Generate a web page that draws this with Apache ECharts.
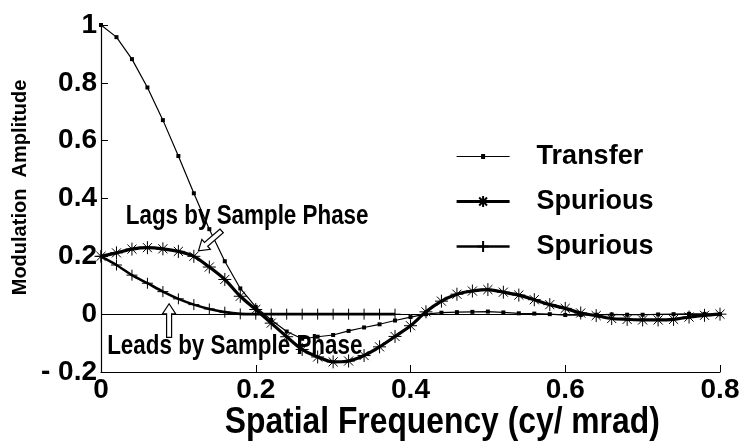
<!DOCTYPE html>
<html><head><meta charset="utf-8">
<script src="https://cdn.jsdelivr.net/npm/echarts@6/dist/echarts.min.js"></script>
<style>html,body{margin:0;padding:0;background:#fff}#c{width:755px;height:445px}</style>
</head><body><div id="c"></div>
<script>
const freq = [0,0.02,0.04,0.06,0.08,0.10,0.12,0.14,0.16,0.18,0.20,0.22,0.24,0.26,0.28,0.30,0.32,0.34,0.36,0.38,0.40,
  0.42,0.44,0.46,0.48,0.50,0.52,0.54,0.56,0.58,0.60,0.62,0.64,0.66,0.68,0.70,0.72,0.74,0.76,0.78,0.80];
const transfer = [1.0,0.958,0.882,0.784,0.671,0.547,0.418,0.294,0.183,0.089,0.025,-0.02,-0.06,-0.085,-0.078,-0.072,-0.058,-0.046,-0.035,-0.022,-0.01,
  0.0,0.005,0.007,0.008,0.009,0.006,0.003,0.002,0.0,-0.003,-0.003,-0.002,-0.001,-0.002,-0.002,-0.001,0.0,0.001,0.001,0.0];
const spuriousLag = [0.2,0.212,0.225,0.23,0.226,0.217,0.2,0.163,0.12,0.062,0.016,-0.031,-0.078,-0.122,-0.148,-0.165,-0.162,-0.143,-0.113,-0.077,-0.04,
  0.008,0.045,0.069,0.08,0.085,0.076,0.066,0.05,0.033,0.02,0.004,-0.005,-0.015,-0.018,-0.02,-0.02,-0.018,-0.01,-0.004,0.0];
const spuriousLead = [0.2,0.17,0.135,0.107,0.078,0.053,0.033,0.018,0.007,0.001,0,0,0,0,0,0,0,0,0,0];
const xTickLabels = {'0':'0','0.2':'0.2','0.4':'0.4','0.6':'0.6','0.8':'0.8'};
const yTickLabels = {'-0.2':'- 0.2','0':'0','0.2':'0.2','0.4':'0.4','0.6':'0.6','0.8':'0.8','1':'1'};
const seriesNames = ['Transfer','Spurious (lags)','Spurious (leads)'];
const legendLabels = {'Transfer':'Transfer','Spurious (lags)':'Spurious','Spurious (leads)':'Spurious'};
const annotations = {lags:'Lags by Sample Phase', leads:'Leads by Sample Phase'};
const xTitle = 'Spatial Frequency (cy/ mrad)';
const yTitle = 'Modulation  Amplitude';

const pairs = (xs, ys) => ys.map((v, i) => [xs[i], v]);
const SANS = '"Liberation Sans",Arial,sans-serif';
const starPath = 'path://M0,10 L20,10 M10,0 L10,20 M3,3 L17,17 M17,3 L3,17';
const plusPath = 'path://M0,10 L20,10 M10,0 L10,20';
const transferIcon = 'path://M0,0 M53,14 M0,6.4 L53,6.4 L53,7.6 L0,7.6 Z M24.5,4.5 L28.5,4.5 L28.5,9.5 L24.5,9.5 Z';

const chart = echarts.init(document.getElementById('c'), null, {renderer:'canvas'});
chart.setOption({
  animation:false,
  backgroundColor:'#fff',
  grid:{left:101,right:35,top:25,bottom:73,containLabel:false,outerBoundsMode:'none'},
  xAxis:{type:'value',min:0,max:0.8,interval:0.2,
    axisLine:{show:true,onZero:false,lineStyle:{color:'#000',width:1.2}},
    axisTick:{show:true,inside:true,length:7,lineStyle:{color:'#000'}},
    splitLine:{show:false},
    axisLabel:{color:'#000',fontFamily:SANS,fontWeight:'bold',fontSize:28,margin:4,
      formatter:v=>xTickLabels[String(+v.toFixed(1))]}},
  yAxis:{type:'value',min:-0.2,max:1,interval:0.2,
    axisLine:{show:true,onZero:false,lineStyle:{color:'#000',width:1.2}},
    axisTick:{show:true,inside:true,length:7,lineStyle:{color:'#000'}},
    splitLine:{show:false},
    axisLabel:{color:'#000',fontFamily:SANS,fontWeight:'bold',fontSize:28,margin:4,
      formatter:v=>yTickLabels[String(+v.toFixed(1))]},
    name:yTitle,nameLocation:'middle',nameGap:61,nameRotate:90,
    nameTextStyle:{color:'#000',fontFamily:SANS,fontWeight:'bold',fontSize:20,padding:[0,0,0,22]}},
  legend:{orient:'vertical',left:450,top:138,itemWidth:53,itemHeight:14,itemGap:18,
    data:[{name:seriesNames[0],icon:transferIcon},{name:seriesNames[1]},{name:seriesNames[2]}],
    formatter:n=>legendLabels[n],
    lineStyle:{width:'inherit'},
    textStyle:{color:'#000',fontFamily:SANS,fontWeight:'bold',fontSize:27,padding:[0,0,0,22]}},
  series:[
    {name:seriesNames[0],type:'line',data:pairs(freq,transfer),
     symbol:'rect',symbolSize:4,showAllSymbol:true,
     lineStyle:{color:'#000',width:1.2},itemStyle:{color:'#000'},
     markLine:{silent:true,symbol:'none',label:{show:false},lineStyle:{color:'#000',width:1,type:'solid'},data:[{yAxis:0}]},
     z:3},
    {name:seriesNames[1],type:'line',data:pairs(freq,spuriousLag),smooth:0.3,
     symbol:starPath,symbolSize:13,showAllSymbol:true,
     lineStyle:{color:'#000',width:3.2},itemStyle:{color:'#000',borderColor:'#000',borderWidth:1},
     z:4},
    {name:seriesNames[2],type:'line',data:pairs(freq.slice(0,spuriousLead.length),spuriousLead),smooth:0.3,
     symbol:plusPath,symbolSize:11,showAllSymbol:true,
     lineStyle:{color:'#000',width:2.6},itemStyle:{color:'#000',borderColor:'#000',borderWidth:1},
     z:4}
  ]
});

function arrow(tipD, tailD){
  const tip = chart.convertToPixel({gridIndex:0}, tipD);
  const tail = chart.convertToPixel({gridIndex:0}, tailD);
  const dx = tip[0]-tail[0], dy = tip[1]-tail[1];
  const L = Math.hypot(dx,dy), ux = dx/L, uy = dy/L, nx = -uy, ny = ux;
  const sw = 2.5, hw = 6.5, hl = 10;
  const neck = [tip[0]-ux*hl, tip[1]-uy*hl];
  const pts = [
    [tail[0]+nx*sw, tail[1]+ny*sw],
    [neck[0]+nx*sw, neck[1]+ny*sw],
    [neck[0]+nx*hw, neck[1]+ny*hw],
    tip,
    [neck[0]-nx*hw, neck[1]-ny*hw],
    [neck[0]-nx*sw, neck[1]-ny*sw],
    [tail[0]-nx*sw, tail[1]-ny*sw]
  ];
  return {type:'polygon',shape:{points:pts},style:{fill:'#fff',stroke:'#000',lineWidth:1.2},z:5};
}
const lagsPos = chart.convertToPixel({gridIndex:0},[0.032,0.339]);
const leadsPos = chart.convertToPixel({gridIndex:0},[0.008,-0.111]);
const titlePos = chart.convertToPixel({gridIndex:0},[0.441,-0.377]);
chart.setOption({graphic:[
  {type:'text',x:lagsPos[0],y:lagsPos[1],scaleX:0.8,z:1,style:{text:annotations.lags,fill:'#000',font:'bold 28px '+SANS,textVerticalAlign:'middle'}},
  {type:'text',x:leadsPos[0],y:leadsPos[1],scaleX:0.8,z:1,style:{text:annotations.leads,fill:'#000',font:'bold 28px '+SANS,textVerticalAlign:'middle'}},
  {type:'text',x:titlePos[0],y:titlePos[1],scaleX:0.86,z:1,style:{text:xTitle,fill:'#000',font:'bold 37px '+SANS,textAlign:'center',textVerticalAlign:'middle'}},
  arrow([0.126,0.219],[0.156,0.288]),
  arrow([0.088,0.036],[0.088,-0.08])
]});
</script></body></html>
